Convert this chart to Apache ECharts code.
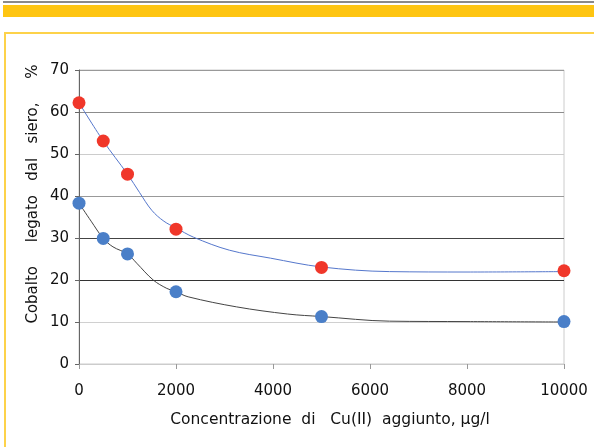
<!DOCTYPE html>
<html>
<head>
<meta charset="utf-8">
<script src="https://cdn.jsdelivr.net/npm/echarts@6/dist/echarts.min.js"></script>
<style>
html,body{margin:0;padding:0;background:#fff;}
#chart{width:594px;height:447px;}
</style>
</head>
<body>
<div id="chart"></div>
<script>
// Measured points (x: µg/l Cu(II) added, y: % cobalt bound)
const concentrations = [0, 500, 1000, 2000, 5000, 10000];
const redValues = [62.2, 53.1, 45.2, 32.1, 23.0, 22.2];
const blueValues = [38.3, 29.9, 26.2, 17.2, 11.3, 10.1];

// Trend curves
const redCurveX = [0, 500, 1000, 1250, 1500, 1750, 2000, 2360, 3100, 3950, 5000, 6400, 8000, 10000];
const redCurveY = [62.2, 53.1, 45.2, 40.8, 36.6, 34.0, 32.4, 30.2, 27.1, 25.2, 23.1, 22.0, 21.9, 22.0];
const blueCurveX = [0, 250, 500, 700, 1000, 1190, 1530, 1810, 2000, 2250, 3250, 4300, 5000, 6400, 8000, 10000];
const blueCurveY = [38.3, 34.0, 29.9, 27.9, 26.2, 24.0, 20.0, 18.0, 17.2, 16.0, 13.6, 11.9, 11.3, 10.2, 10.1, 10.0];

const xTicks = [0, 2000, 4000, 6000, 8000, 10000];
const yTicks = [0, 10, 20, 30, 40, 50, 60, 70];

const xTitle = 'Concentrazione  di   Cu(II)  aggiunto, μg/l';
const yTitle = 'Cobalto     legato   dal   siero,     %';

const pair = (xs, ys) => xs.map((x, i) => [x, ys[i]]);

const chart = echarts.init(document.getElementById('chart'), null, {renderer: 'canvas'});
const font = 'DejaVu Sans';

chart.setOption({
  animation: false,
  backgroundColor: '#ffffff',
  graphic: [
    {type: 'rect', shape: {x: 3, y: 1, width: 591, height: 2}, style: {fill: '#8a8a8a'}, silent: true},
    {type: 'rect', shape: {x: 3, y: 5, width: 591, height: 12}, style: {fill: '#fec512'}, silent: true},
    {type: 'rect', shape: {x: 4, y: 32, width: 590, height: 2}, style: {fill: '#fdd24a'}, silent: true},
    {type: 'rect', shape: {x: 4, y: 32, width: 2, height: 415}, style: {fill: '#fdd24a'}, silent: true},
    {
      type: 'text', x: 330, y: 420, silent: true,
      style: {text: xTitle, font: '15.5px "DejaVu Sans"', fill: '#111', align: 'center', verticalAlign: 'middle'}
    },
    {
      type: 'text', x: 33, y: 194, rotation: Math.PI / 2, silent: true,
      style: {text: yTitle, font: '15px "DejaVu Sans"', fill: '#111', align: 'center', verticalAlign: 'middle'}
    }
  ],
  grid: {
    left: 79, right: 30, top: 70, bottom: 83,
    show: true, borderColor: '#cccccc', borderWidth: 1
  },
  xAxis: {
    type: 'value',
    min: 0, max: 10000, interval: 2000,
    axisLine: {show: true, lineStyle: {color: '#cccccc', width: 1}},
    axisTick: {show: true, length: 5, lineStyle: {color: '#999'}},
    axisLabel: {
      fontFamily: font, fontSize: 15, color: '#111', margin: 20,
      formatter: v => (xTicks.indexOf(v) >= 0 ? String(v) : '')
    },
    splitLine: {show: false}
  },
  yAxis: {
    type: 'value',
    min: 0, max: 70, interval: 10,
    axisLine: {show: true, lineStyle: {color: '#666', width: 1}},
    axisTick: {show: true, length: 4, lineStyle: {color: '#666'}},
    axisLabel: {
      fontFamily: font, fontSize: 15, color: '#111', margin: 10,
      formatter: v => (yTicks.indexOf(v) >= 0 ? String(v) : '')
    },
    splitLine: {
      show: true,
      lineStyle: {
        width: 1,
        color: ['#d0d0d0', '#d0d0d0', '#333333', '#444444', '#999999', '#cccccc', '#8c8c8c', '#999999']
      }
    }
  },
  series: [
    {
      type: 'line', data: pair(redCurveX, redCurveY), smooth: 0.35,
      symbol: 'none', lineStyle: {color: '#5577cc', width: 1}, z: 2
    },
    {
      type: 'line', data: pair(blueCurveX, blueCurveY), smooth: 0.35,
      symbol: 'none', lineStyle: {color: '#444444', width: 1}, z: 2
    },
    {
      type: 'scatter', data: pair(concentrations, redValues),
      symbol: 'circle', symbolSize: 13,
      itemStyle: {color: '#f0372a', opacity: 1}, z: 3
    },
    {
      type: 'scatter', data: pair(concentrations, blueValues),
      symbol: 'circle', symbolSize: 13,
      itemStyle: {color: '#4a7fc8', opacity: 1}, z: 3
    }
  ]
});
</script>
</body>
</html>
